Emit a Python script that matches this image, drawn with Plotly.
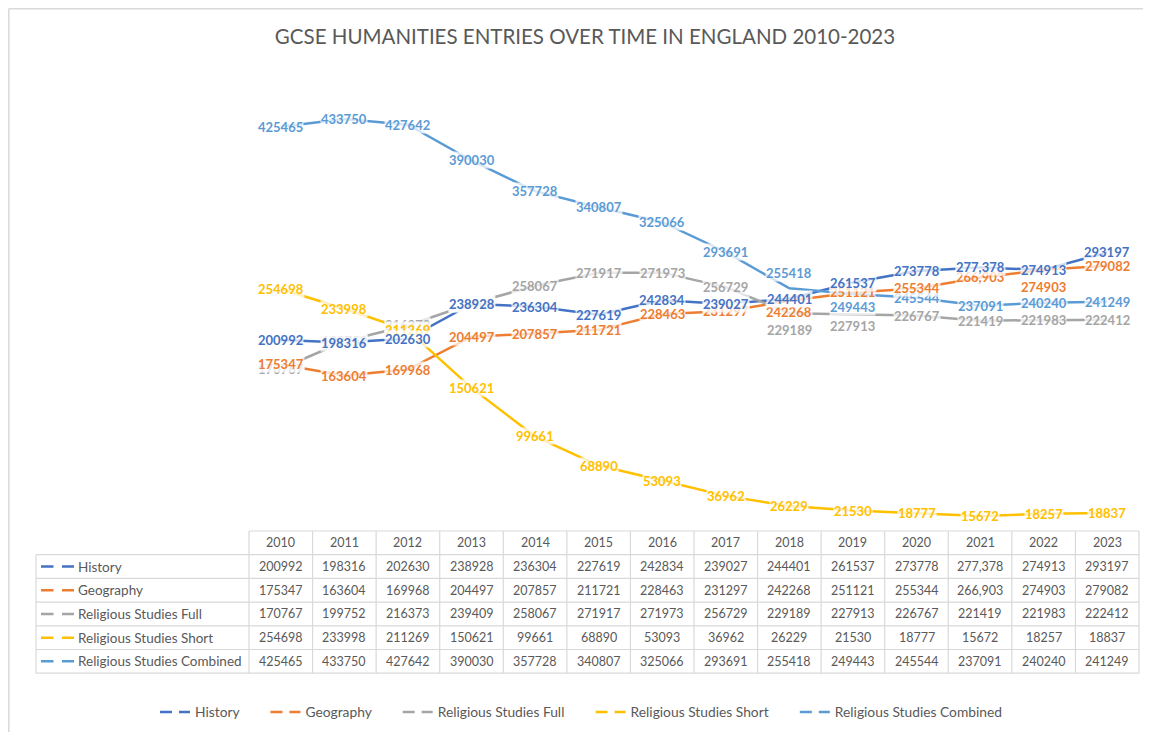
import plotly.graph_objects as go

# ---------------- data ----------------
years = list(range(2010, 2024))
series_names = ["History", "Geography", "Religious Studies Full",
                "Religious Studies Short", "Religious Studies Combined"]
history = [200992, 198316, 202630, 238928, 236304, 227619, 242834, 239027,
           244401, 261537, 273778, 277378, 274913, 293197]
geography = [175347, 163604, 169968, 204497, 207857, 211721, 228463, 231297,
             242268, 251121, 255344, 266903, 274903, 279082]
rs_full = [170767, 199752, 216373, 239409, 258067, 271917, 271973, 256729,
           229189, 227913, 226767, 221419, 221983, 222412]
rs_short = [254698, 233998, 211269, 150621, 99661, 68890, 53093, 36962,
            26229, 21530, 18777, 15672, 18257, 18837]
rs_combined = [425465, 433750, 427642, 390030, 357728, 340807, 325066, 293691,
               255418, 249443, 245544, 237091, 240240, 241249]
series_values = [history, geography, rs_full, rs_short, rs_combined]
# cells shown with a thousands separator in the source
comma_cells = {("History", 2021), ("Geography", 2021)}

# ---------------- style ----------------
colors = ["#4472C4", "#ED7D31", "#A5A5A5", "#FFC000", "#5B9BD5"]
TXT = "#595959"
GRID = "#D9D9D9"
FONT = "Lato"
OFF = 8                      # page body margin of the browser
W, H = 1151 - OFF, 732 - OFF
# plot area in window pixels: x 249..1139, y 56..531
L, R, T, B = 249 - OFF, 1151 - 1139, 56 - OFF, 732 - 531
PW, PH = 1139 - 249, 531 - 56
# manual label nudges (pixels, + = down)
label_nudge = {("Religious Studies Full", 2018): 17,
               ("Religious Studies Full", 2019): 12,
               ("Religious Studies Combined", 2019): 13,
               ("Religious Studies Combined", 2018): -15,
               ("Geography", 2022): 17,
               ("Geography", 2018): 11}
# order in which data labels are stacked (last on top)
label_order = [2, 3, 4, 1, 0]


def px(x):  # window pixel -> paper
    return (x - 249) / PW


def py(y):  # window pixel -> paper
    return (531 - y) / PH


def fmt(name, yr, v):
    return f"{v:,}" if (name, yr) in comma_cells else str(v)


fig = go.Figure()
annotations = []
shapes = []

for name, vals, col in zip(series_names, series_values, colors):
    fig.add_trace(go.Scatter(x=years, y=vals, mode="lines", name=name,
                             line=dict(color=col, width=2.5),
                             showlegend=False, hoverinfo="skip"))
for name, vals, col in zip(series_names, series_values, colors):
    # legend entry with dashed key
    fig.add_trace(go.Scatter(x=[None], y=[None], mode="lines",
                             name=name + "\u00a0" * 6,
                             line=dict(color=col, width=2.5, dash="12px,7px")))

for idx in label_order:
    name, vals, col = series_names[idx], series_values[idx], colors[idx]
    for yr, v in zip(years, vals):
        annotations.append(dict(
            x=yr, y=v, xref="x", yref="y", text=fmt(name, yr, v),
            xanchor="center", yanchor="middle",
            showarrow=False, font=dict(family=FONT, size=13, color=col, weight="bold"),
            bgcolor="rgba(255,255,255,0.75)", borderpad=0,
            yshift=-label_nudge.get((name, yr), 0)))

# ---------------- data table ----------------
row_top = 531
row_h = 23.7
x_left = 36
x_right = 1139
n_rows = len(series_names)

shapes.append(dict(type="line", xref="paper", yref="paper",
                   x0=0, x1=1, y0=py(row_top), y1=py(row_top),
                   line=dict(color=GRID, width=1.2)))
for i in range(1, n_rows + 2):
    yy = row_top + i * row_h
    shapes.append(dict(type="line", xref="paper", yref="paper",
                       x0=px(x_left), x1=px(x_right), y0=py(yy), y1=py(yy),
                       line=dict(color=GRID, width=1.2)))
shapes.append(dict(type="line", xref="paper", yref="paper",
                   x0=px(x_left), x1=px(x_left), y0=py(row_top + row_h),
                   y1=py(row_top + (n_rows + 1) * row_h),
                   line=dict(color=GRID, width=1.2)))
for k in range(len(years) + 1):
    xx = k / len(years)
    shapes.append(dict(type="line", xref="paper", yref="paper",
                       x0=xx, x1=xx, y0=py(row_top),
                       y1=py(row_top + (n_rows + 1) * row_h),
                       line=dict(color=GRID, width=1.2)))

for yr in years:
    annotations.append(dict(x=yr, y=py(row_top + row_h / 2), xref="x", yref="paper",
                            xanchor="center", yanchor="middle",
                            text=str(yr), showarrow=False,
                            font=dict(family=FONT, size=12.5, color=TXT)))
for i, (name, vals, col) in enumerate(zip(series_names, series_values, colors)):
    yc = row_top + (i + 1.5) * row_h
    shapes.append(dict(type="line", xref="paper", yref="paper",
                       x0=px(41), x1=px(74), y0=py(yc), y1=py(yc),
                       line=dict(color=col, width=2.5, dash="12.5px,8.5px")))
    annotations.append(dict(x=px(76), y=py(yc), xref="paper", yref="paper",
                            xanchor="left", yanchor="middle", text=name, showarrow=False,
                            font=dict(family=FONT, size=13.5, color=TXT)))
    for yr, v in zip(years, vals):
        annotations.append(dict(x=yr, y=py(yc), xref="x", yref="paper",
                                xanchor="center", yanchor="middle",
                                text=fmt(name, yr, v), showarrow=False,
                                font=dict(family=FONT, size=12.5, color=TXT)))

# chart-area frame (top and left edges visible)
shapes.append(dict(type="line", xref="paper", yref="paper",
                   x0=px(OFF + 0.8), x1=px(1160), y0=py(OFF + 0.8), y1=py(OFF + 0.8),
                   line=dict(color="#D9D9D9", width=1.5)))
shapes.append(dict(type="line", xref="paper", yref="paper",
                   x0=px(OFF + 0.8), x1=px(OFF + 0.8), y0=py(OFF + 0.8), y1=py(740),
                   line=dict(color="#D9D9D9", width=1.5)))

fig.update_layout(
    width=W, height=H,
    margin=dict(l=L, r=R, t=T, b=B, autoexpand=False),
    paper_bgcolor="white", plot_bgcolor="white",
    title=dict(text="GCSE HUMANITIES ENTRIES OVER TIME IN ENGLAND 2010-2023",
               x=(585 - OFF) / W, xanchor="center", y=1 - (37 - OFF) / H, yanchor="middle",
               font=dict(family=FONT, size=20.5, color=TXT)),
    xaxis=dict(range=[2009.5, 2023.5], visible=False, fixedrange=True),
    yaxis=dict(range=[0, 500000], visible=False, fixedrange=True),
    showlegend=True,
    legend=dict(orientation="h", xref="container", yref="container",
                x=(592 - OFF) / W, xanchor="center", y=1 - (712 - OFF) / H, yanchor="middle",
                font=dict(family=FONT, size=13.8, color=TXT),
                itemwidth=30, bgcolor="rgba(0,0,0,0)"),
    annotations=annotations, shapes=shapes,
)

fig.write_html("out.html")
